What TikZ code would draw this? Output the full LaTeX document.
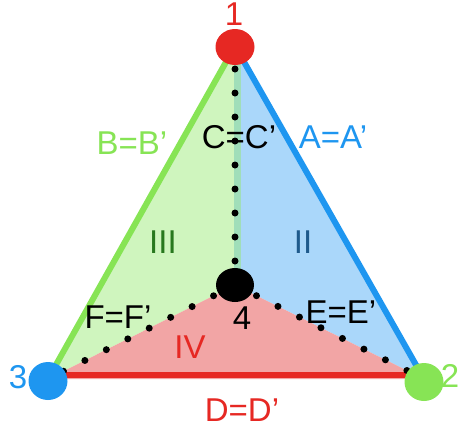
\documentclass[tikz,border=0pt]{standalone}
\usepackage{fontspec}
\setmainfont{Liberation Sans}
\usetikzlibrary{shapes.geometric}
\definecolor{redc}{RGB}{230,40,35}
\definecolor{bluec}{RGB}{30,150,240}
\definecolor{greenc}{RGB}{135,228,85}
\definecolor{redfill}{RGB}{242,165,165}
\definecolor{bluefill}{RGB}{170,215,250}
\definecolor{greenfill}{RGB}{207,245,190}
\definecolor{stripc}{RGB}{160,222,185}
\definecolor{darkgreen}{RGB}{40,120,30}
\definecolor{darkblue}{RGB}{30,90,140}
\begin{document}
\begin{tikzpicture}[x=1pt,y=-1pt,
  lbl/.style={font=\fontsize{33}{33}\selectfont, inner sep=0pt},
  edge/.style={line width=6pt},
  dotline/.style={line width=7pt, line cap=round, dash pattern=on 0pt off 24pt},
  vtx/.style={ellipse, inner sep=0pt, minimum width=39pt, minimum height=38pt}]
\useasboundingbox (0,0) rectangle (459,432);

% corners of the triangle and the centre
\coordinate (t) at (235,46);
\coordinate (l) at (48,379);
\coordinate (r) at (424,379);
\coordinate (c) at (235,285);

% faces
\fill[greenfill] (t) -- (l) -- (c) -- cycle;
\fill[bluefill] (t) -- (c) -- (r) -- cycle;
\fill[redfill] (l) -- (c) -- (r) -- cycle;
\draw[stripc, line width=7pt] ([xshift=2pt]t) -- ([xshift=2pt]c);

% outer edges
\draw[edge, greenc] (t) -- (l);
\draw[edge, bluec] (t) -- (r);
\draw[edge, redc] ([yshift=4pt]l) -- ([yshift=4pt]r);

% labels
\node[lbl, greenc] (labB) at (132,143) {B=B’};
\node[lbl, bluec] (labA) at (333,137) {A=A’};
\node[lbl] (labC) at (239,137) {C=C’};
\node[lbl, darkgreen] (labIII) at (163,242) {III};
\node[lbl, darkblue] (labII) at (303,242) {II};
\node[lbl, redc] (labIV) at (190,347) {IV};
\node[lbl, redc] (labD) at (242,410) {D=D’};
\node[lbl] (labE) at (341,312) {E=E’};
\node[lbl] (labF) at (118,317) {F=F’};

% dotted inner edges
\draw[dotline] (c) -- (t);
\draw[dotline] (c) -- (l);
\draw[dotline] (c) -- (r);

% vertices
\node[vtx, fill=redc, minimum height=36pt] (v1) at ([yshift=-1pt]t) {};
\node[vtx, fill=bluec] (v3) at ([yshift=-2pt]l) {};
\node[vtx, fill=greenc] (v2) at ([yshift=-3pt]r) {};
\node[vtx, fill=black, minimum width=38pt, minimum height=34pt] (v4) at (c) {};
\node[lbl, redc] (n1) at (234,14) {1};
\node[lbl, bluec] (n3) at (18,377) {3};
\node[lbl, greenc] (n2) at (450,376) {2};
\node[lbl] (n4) at (242,318) {4};
\end{tikzpicture}
\end{document}
